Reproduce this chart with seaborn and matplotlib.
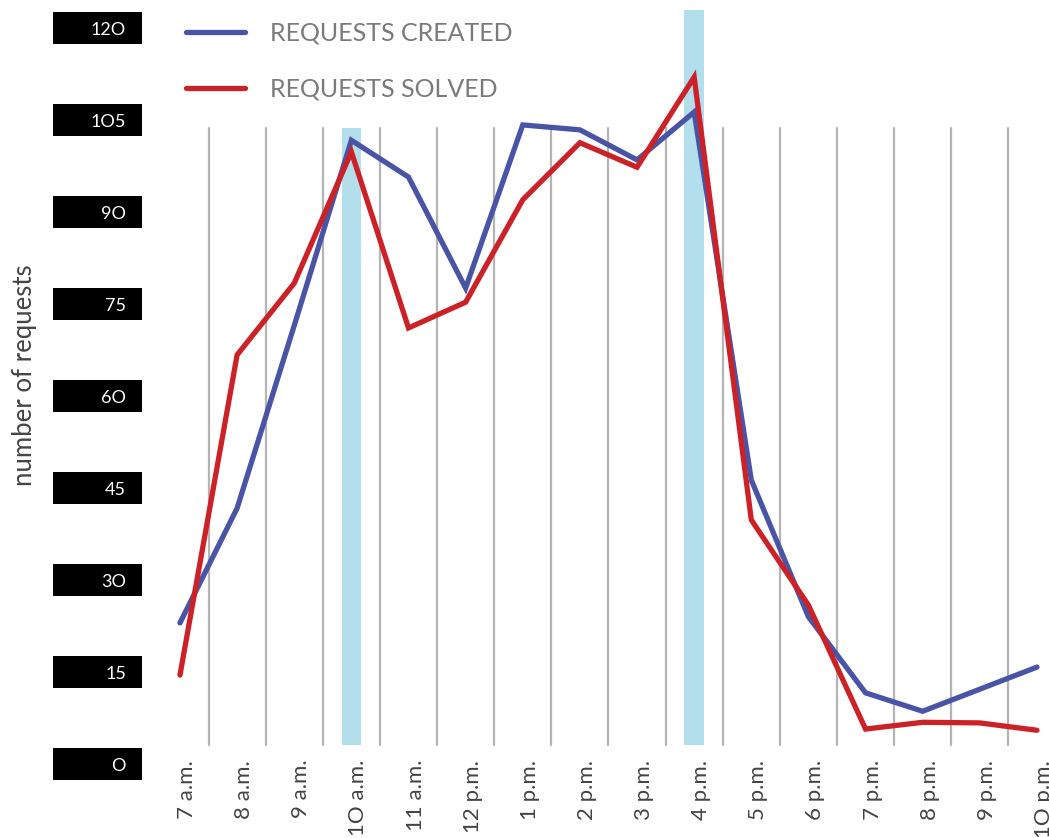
import matplotlib
matplotlib.use("Agg")
import matplotlib.pyplot as plt
import matplotlib.transforms as mtransforms
from matplotlib.patches import Rectangle
import numpy as np
import pandas as pd
import seaborn as sns

# ---- data ---------------------------------------------------------------
hours = ["7 a.m.", "8 a.m.", "9 a.m.", "1O a.m.", "11 a.m.", "12 p.m.",
         "1 p.m.", "2 p.m.", "3 p.m.", "4 p.m.", "5 p.m.", "6 p.m.",
         "7 p.m.", "8 p.m.", "9 p.m.", "1O p.m."]
requests_created = [23.0, 41.7, 71.5, 101.7, 95.7, 77.6, 104.2, 103.4,
                    98.5, 106.3, 46.3, 24.0, 11.6, 8.6, 12.2, 15.8]
requests_solved = [14.5, 66.7, 78.4, 99.8, 71.1, 75.3, 92.0, 101.3,
                   97.3, 112.0, 39.8, 25.9, 5.7, 6.8, 6.7, 5.5]
series_names = ["REQUESTS CREATED", "REQUESTS SOLVED"]
y_ticks = [0, 15, 30, 45, 60, 75, 90, 105, 120]
y_tick_labels = ["O", "15", "3O", "45", "6O", "75", "9O", "1O5", "12O"]
peak_hours = ["1O a.m.", "4 p.m."]
peak_tops = [103.7, 122.9]
divider_range = (3.1, 103.7)

df = pd.DataFrame({
    "hour": hours * 2,
    "requests": requests_created + requests_solved,
    "series": [series_names[0]] * len(hours) + [series_names[1]] * len(hours),
})

# ---- style --------------------------------------------------------------
sns.set_style("white")
plt.rcParams["font.family"] = ["Lato", "DejaVu Sans"]

blue = "#4a54a6"
red = "#cd2128"
peak_color = "#b3deeb"
divider_color = "#b4b4b4"
text_dark = "#444444"
text_gray = "#7a7a7a"

fig = plt.figure(figsize=(10.49, 8.38), dpi=100)
W, H = 1049, 838
ax = fig.add_axes([151.4 / W, (H - 764) / H, 897.0 / W, 760.5 / H])

# highlighted hours
x_pos = {h: i for i, h in enumerate(hours)}
for h, top in zip(peak_hours, peak_tops):
    ax.bar(x_pos[h], top - divider_range[0], bottom=divider_range[0],
           width=0.34, color=peak_color, linewidth=0, zorder=0.5)

# thin separators between hours
for i in range(len(hours) - 1):
    ax.plot([i + 0.5, i + 0.5], divider_range, color=divider_color,
            linewidth=1.6, zorder=0.6)

sns.lineplot(data=df, x="hour", y="requests", hue="series",
             hue_order=series_names, palette=[blue, red], sort=False,
             linewidth=3.8, solid_capstyle="round", solid_joinstyle="miter",
             ax=ax, zorder=3)

ax.set_xlim(-0.5, 15.2)
ax.set_ylim(0, 124)
for s in ax.spines.values():
    s.set_visible(False)

# x axis labels
ax.set_xticks(range(len(hours)))
ax.set_xticklabels(hours, rotation=90, fontsize=16, fontweight="normal",
                   color=text_dark)
ax.tick_params(axis="x", length=0, pad=-3)
shift = mtransforms.ScaledTranslation(7 / 100, 0, fig.dpi_scale_trans)
for lab in ax.get_xticklabels():
    lab.set_transform(lab.get_transform() + shift)
ax.set_xlabel("")

# y axis labels on black plates
ax.set_yticks(y_ticks)
ax.set_yticklabels(y_tick_labels, fontsize=13, fontweight="normal",
                   color="white")
ax.tick_params(axis="y", length=0, pad=18.3)
plate_tf = mtransforms.blended_transform_factory(fig.transFigure, ax.transData)
half = 16 / 6.133
for v in y_ticks:
    ax.add_patch(Rectangle((53 / W, v - half), 89 / W, 2 * half,
                           transform=plate_tf, facecolor="black",
                           edgecolor="none", clip_on=False, zorder=0.1))

ax.set_ylabel("number of requests", fontsize=18.5, fontweight="normal",
              color=text_dark)
ax.yaxis.set_label_coords(-0.127, 0.5115)

# legend
leg = ax.legend(loc="upper left", bbox_to_anchor=(186 / W, 1 - 22 / H),
                bbox_transform=fig.transFigure, frameon=False,
                handlelength=2.35, handletextpad=1.0,
                labelspacing=1.3, borderpad=0, borderaxespad=0,
                labelcolor=text_gray, prop={"weight": "normal", "size": 18})
for hnd in leg.legend_handles:
    hnd.set_linewidth(3.8)
    hnd.set_solid_capstyle("round")

fig.savefig("out.png", dpi=100)
